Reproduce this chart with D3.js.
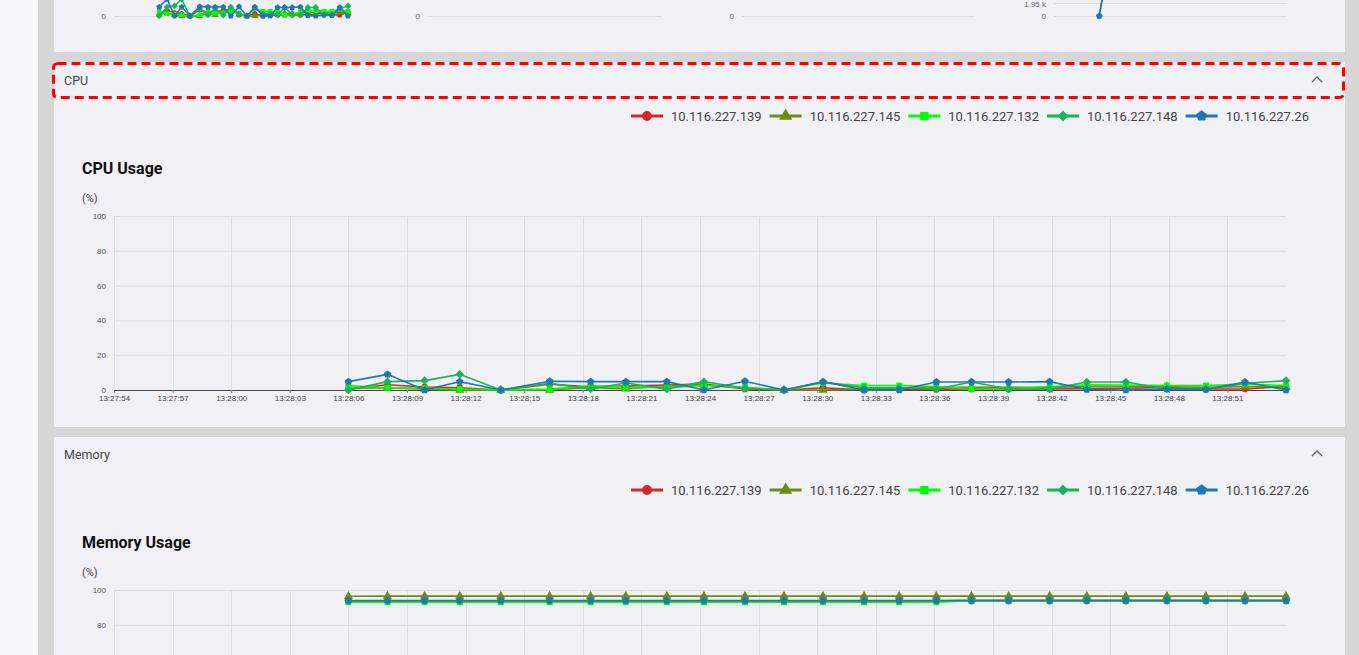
<!DOCTYPE html>
<html><head><meta charset="utf-8">
<script src="https://cdn.jsdelivr.net/npm/d3@7"></script>
<style>
html,body{margin:0;padding:0;overflow:hidden;background:#f9f9fc;}
svg{display:block;font-family:Roboto,"Noto Sans",sans-serif;}
</style></head><body>
<svg id="c" width="1359" height="655"></svg>
<script>
// ---------- data ----------
const hosts = ["10.116.227.139","10.116.227.145","10.116.227.132","10.116.227.148","10.116.227.26"];
const hostColors = ["#d62728","#6e8b12","#00ff00","#19b35b","#1f77b4"];
const times = ["13:28:06.0","13:28:08.0","13:28:09.9","13:28:11.7","13:28:13.8","13:28:16.3","13:28:18.4","13:28:20.2","13:28:22.3","13:28:24.2","13:28:26.3","13:28:28.3","13:28:30.3","13:28:32.4","13:28:34.2","13:28:36.1","13:28:37.9","13:28:39.8","13:28:41.9","13:28:43.8","13:28:45.8","13:28:47.9","13:28:49.9","13:28:51.9","13:28:54.0"];
const xTickLabels = ["13:27:54","13:27:57","13:28:00","13:28:03","13:28:06","13:28:09","13:28:12","13:28:15","13:28:18","13:28:21","13:28:24","13:28:27","13:28:30","13:28:33","13:28:36","13:28:39","13:28:42","13:28:45","13:28:48","13:28:51"];
const xDomain = ["13:27:54.0","13:28:54.0"];
const pctTicks = [0,20,40,60,80,100];

const cpu139 = [0.5,3,1.7,1.3,0,3.3,1.9,2.2,2.9,3.4,0.6,0,1.3,0,0.3,0.5,0.6,0.6,0.6,0.8,1,1.5,0.6,0.6,2];
const cpu145 = [1,1.3,0.5,0,0,0,1.5,0.6,2.5,3,1,0,0,0.5,1,1.5,1.5,1.5,1.5,2,2,2,1.5,2,1.5];
const cpu132 = [2.5,1.3,1,0.6,0,0.5,2.5,1.5,1.5,2.5,1.5,0,4,2.5,2.5,2,0.6,0.6,2,3,2.9,2.5,2.5,3.4,2.5];
const cpu148 = [0,4.8,5.4,9,0,3.8,0.6,4,0.5,4.8,1,0,4.6,1.2,1.2,0.6,4.6,0.6,0.6,4.6,4.6,0.6,0.6,3.8,5.4];
const cpu26  = [4.8,9,0,4.8,0,5,4.8,4.8,4.8,0,5,0,4.8,0,0,4.6,4.6,4.6,4.8,0.3,0,0.5,0.3,4.6,0];

const mem139 = [93.7,93.7,93.7,93.7,93.7,93.7,93.7,93.7,93.7,93.7,93.7,93.7,93.7,93.7,93.7,93.7,93.7,93.7,93.7,93.7,93.7,93.7,93.7,93.7,93.7];
const mem145 = [96.4,96.5,96.5,96.5,96.5,96.5,96.5,96.5,96.5,96.5,96.5,96.5,96.5,96.5,96.5,96.5,96.5,96.5,96.5,96.5,96.5,96.5,96.5,96.5,96.5];
const mem132 = [93.0,93.0,93.0,93.0,93.0,93.0,93.0,93.0,93.0,93.0,93.0,93.0,93.0,93.0,93.0,93.0,93.8,93.8,93.8,93.8,93.8,93.8,93.8,93.8,93.8];
const mem148 = [93.8,93.8,93.8,93.8,93.8,93.8,93.8,93.8,93.8,93.8,93.8,93.8,93.8,93.8,93.8,93.8,93.9,93.9,93.9,93.9,93.9,93.9,93.9,93.9,93.9];
const mem26  = [94.0,94.0,94.0,94.0,94.0,94.0,94.0,94.0,94.0,94.0,94.0,94.0,94.0,94.0,94.0,94.0,94.1,94.1,94.1,94.1,94.1,94.1,94.1,94.1,94.1];

// top (partially scrolled-off) panel: only the lowest part is visible
const topNetTicks = [0, 1950];
const topNetTickLabels = ["0","1.95 k"];
const topNet148 = [0, 7000];
const topNet26  = [0, 6500];

// ---------- helpers ----------
const VIEW_H = 655;
const parseT = s => { const [h,m,sec] = s.split(":"); return new Date(2000,0,1,+h,+m,0,Math.round(+sec*1000)); };
const T = times.map(parseT);
const pentagon = { draw(ctx, size){ const r = Math.sqrt(size)*0.66; for(let k=0;k<5;k++){ const a=-Math.PI/2+k*2*Math.PI/5; const px=r*Math.cos(a), py=r*Math.sin(a); if(k===0) ctx.moveTo(px,py); else ctx.lineTo(px,py);} ctx.closePath(); } };
const rhombus = { draw(ctx, size){ const r = Math.sqrt(size/2); ctx.moveTo(0,-r); ctx.lineTo(r,0); ctx.lineTo(0,r); ctx.lineTo(-r,0); ctx.closePath(); } };
const symbolTypes = [d3.symbolCircle, d3.symbolTriangle, d3.symbolSquare, rhombus, pentagon];
const legendSizes = [75, 75, 70, 60, 75];

const svg = d3.select("#c");
// page background / frame
svg.append("rect").attr("x",0).attr("y",0).attr("width",38).attr("height",655).attr("fill","#f9f9fc");
svg.append("rect").attr("x",38).attr("y",0).attr("width",1321).attr("height",655).attr("fill","#d6d6d6");
const cardFill = "#f0f0f5";
svg.append("rect").attr("x",54).attr("y",-20).attr("width",1291).attr("height",72).attr("fill",cardFill);
svg.append("rect").attr("x",54).attr("y",62).attr("width",1291).attr("height",365).attr("fill",cardFill);
svg.append("rect").attr("x",54).attr("y",437).attr("width",1291).attr("height",260).attr("fill",cardFill);

// ---------- top mini charts ----------
const series = [cpu139,cpu145,cpu132,cpu148,cpu26];
const miniRanges = [[112,348],[426,662],[740,976],[1052,1288]];
const miniX = miniRanges.map(r => d3.scaleTime().domain(xDomain.map(parseT)).range(r));
const miniPctY = d3.scaleLinear().domain([0,100]).range([16,-171.5]);
const miniNetY = d3.scaleLinear().domain([0,1950]).range([16,3]);
miniRanges.forEach((r,i) => {
  const g = svg.append("g");
  const ticks = i===3 ? topNetTicks : [0];
  const ys = i===3 ? miniNetY : miniPctY;
  ticks.forEach((t,k) => {
    g.append("line").attr("x1",r[0]+2).attr("x2",r[1]-1).attr("y1",ys(t)+0.5).attr("y2",ys(t)+0.5).attr("stroke","#dcdce3");
    g.append("text").attr("x",r[0]-6).attr("y",Math.max(ys(t),4.5)).attr("dy","0.35em").attr("text-anchor","end")
     .attr("font-size",8).attr("font-family","Liberation Sans, Arial, sans-serif").attr("fill","#666")
     .text(i===3 ? topNetTickLabels[k] : "0");
  });
});
{
  const x = miniX[0];
  series.forEach((vals,si) => {
    const pts = vals.map((v,j)=>[x(T[j]), miniPctY(v)]);
    svg.append("path").attr("d", d3.line()(pts)).attr("fill","none").attr("stroke",hostColors[si]).attr("stroke-width",1.5);
    svg.append("g").selectAll("path").data(pts).join("path")
      .attr("transform",d=>`translate(${d[0]},${d[1]})`)
      .attr("d", d3.symbol(symbolTypes[si], 22)).attr("fill",hostColors[si]);
  });
  const x4 = miniX[3];
  [[topNet148,3],[topNet26,4]].forEach(([vals,si]) => {
    const pts = vals.map((v,j)=>[x4(T[j]), miniNetY(v)]);
    svg.append("path").attr("d", d3.line()(pts)).attr("fill","none").attr("stroke",hostColors[si]).attr("stroke-width",1.5);
    svg.append("path").attr("transform",`translate(${pts[0][0]},${pts[0][1]})`).attr("d",d3.symbol(symbolTypes[si],26)).attr("fill",hostColors[si]);
  });
}

// ---------- section builder ----------
function section(top, header, title, data, dashed){
  // header
  svg.append("text").attr("x",64).attr("y",top+19).attr("dy","0.35em").attr("font-size",12.5).attr("fill","#444").text(header);
  svg.append("path").attr("d",`M1312,${top+20} L1317,${top+15} L1322,${top+20}`).attr("fill","none").attr("stroke","#666").attr("stroke-width",1.3);
  if(dashed){
    svg.append("rect").attr("x",53.5).attr("y",top+1.5).attr("width",1290).attr("height",34).attr("rx",4)
      .attr("fill","none").attr("stroke","#ff0000").attr("stroke-width",3).attr("stroke-dasharray","9,5");
  }
  // legend
  let lx = 631;
  const ly = top+54;
  hosts.forEach((h,i) => {
    const g = svg.append("g");
    g.append("line").attr("x1",lx).attr("x2",lx+32).attr("y1",ly).attr("y2",ly).attr("stroke",hostColors[i]).attr("stroke-width",3);
    g.append("path").attr("transform",`translate(${lx+16},${ly})`).attr("d",d3.symbol(symbolTypes[i],legendSizes[i])).attr("fill",hostColors[i]);
    const t = g.append("text").attr("x",lx+40).attr("y",ly).attr("dy","0.35em").attr("font-size",13).attr("fill","#444").text(h);
    lx += 40 + t.node().getComputedTextLength() + 8;
  });
  // title
  svg.append("text").attr("x",82).attr("y",top+106).attr("dy","0.35em").attr("font-size",16).attr("font-weight","bold").attr("fill","#111").text(title);
  svg.append("text").attr("x",82).attr("y",top+136).attr("dy","0.35em").attr("font-size",11).attr("fill","#444").text("(%)");

  const y0 = top+328, y100 = top+154;
  const x = d3.scaleTime().domain(xDomain.map(parseT)).range([114,1286]);
  const y = d3.scaleLinear().domain([0,100]).range([y0,y100]);
  const tickDates = xTickLabels.map(s => parseT(s+".0"));
  const g = svg.append("g");
  // vertical grid
  g.append("g").selectAll("line").data(tickDates).join("line")
    .attr("x1",d=>Math.round(x(d))+0.5).attr("x2",d=>Math.round(x(d))+0.5).attr("y1",y100).attr("y2",y0)
    .attr("stroke","#dedee5");
  // horizontal grid + y labels (only the part that lies inside the window)
  const visTicks = pctTicks.filter(v => y(v) < VIEW_H - 6);
  const ya = d3.axisLeft(y).tickValues(visTicks).tickSize(-(1286-114)).tickPadding(8);
  const yg = g.append("g").attr("transform","translate(114,0)").call(ya);
  yg.select(".domain").remove();
  yg.selectAll(".tick line").attr("stroke","#dedee5");
  yg.selectAll(".tick text").attr("font-size",8).attr("fill","#555").attr("font-family","Liberation Sans, Arial, sans-serif");
  // x axis (only when it falls inside the window)
  if (y0 < VIEW_H - 12) {
    const xa = d3.axisBottom(x).tickValues(tickDates).tickFormat(d3.timeFormat("%H:%M:%S")).tickSize(3).tickSizeOuter(3).tickPadding(2);
    const xg = g.append("g").attr("transform",`translate(0,${y0})`).call(xa);
    xg.select(".domain").attr("stroke","#444");
    xg.selectAll(".tick line").attr("stroke","#888");
    xg.selectAll(".tick text").attr("font-size",8).attr("fill","#444").attr("font-family","Liberation Sans, Arial, sans-serif");
  }
  // lines
  const line = d3.line().x((d,j)=>x(T[j])).y(d=>y(d));
  data.forEach((vals,si) => {
    g.append("path").attr("d",line(vals)).attr("fill","none").attr("stroke",hostColors[si]).attr("stroke-width",1.6);
  });
  data.forEach((vals,si) => {
    g.append("g").selectAll("path").data(vals).join("path")
      .attr("transform",(d,j)=>`translate(${x(T[j])},${y(d)})`)
      .attr("d",d3.symbol(symbolTypes[si],36)).attr("fill",hostColors[si]);
  });
}

section(62, "CPU", "CPU Usage", [cpu139,cpu145,cpu132,cpu148,cpu26], true);
section(436, "Memory", "Memory Usage", [mem139,mem145,mem132,mem148,mem26], false);
</script>
</body></html>
